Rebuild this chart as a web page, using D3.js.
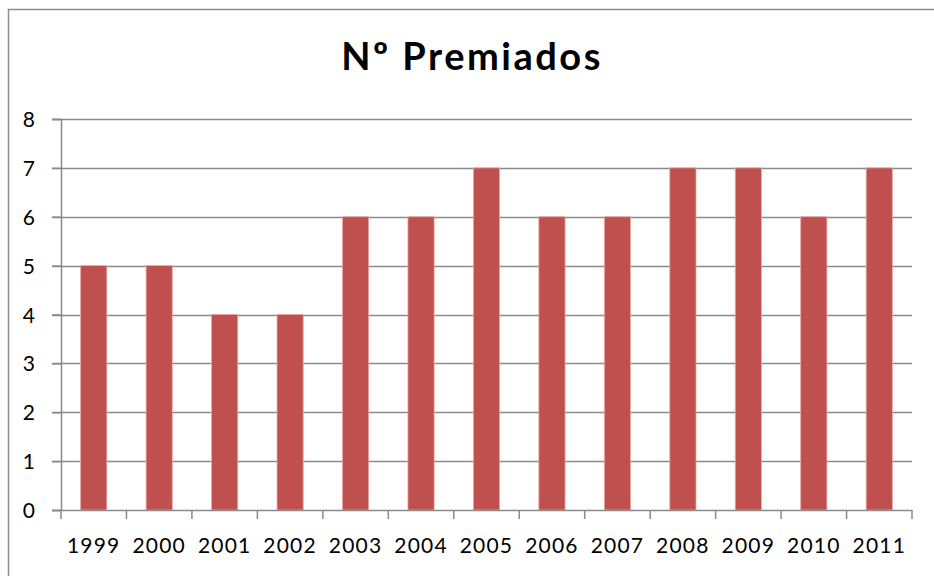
<!DOCTYPE html>
<html>
<head>
<meta charset="utf-8">
<script src="https://cdn.jsdelivr.net/npm/d3@7"></script>
<style>
  body { margin: 0; background: #fff; }
  text { font-family: Lato, "Open Sans", sans-serif; }
</style>
</head>
<body>
<div class="chart"></div>
<script>
var years = ["1999", "2000", "2001", "2002", "2003", "2004", "2005", "2006", "2007", "2008", "2009", "2010", "2011"];
var premiados = [5, 5, 4, 4, 6, 6, 7, 6, 6, 7, 7, 6, 7];
var yTicks = [0, 1, 2, 3, 4, 5, 6, 7, 8];

var width = 934, height = 576;
var plotLeft = 61, plotRight = 912, plotTop = 119, plotBottom = 510;

var svg = d3.select("div.chart").append("svg")
    .attr("width", width)
    .attr("height", height);

// chart border
svg.append("rect")
    .attr("x", 8.5)
    .attr("y", 9.5)
    .attr("width", 940)
    .attr("height", 600)
    .attr("fill", "#fff")
    .attr("stroke", "#8c8c8c")
    .attr("stroke-width", 1.5);

svg.append("text")
    .attr("x", 472)
    .attr("y", 70)
    .attr("text-anchor", "middle")
    .style("font-size", "38px")
    .style("font-weight", "bold")
    .style("letter-spacing", "2.5px")
    .text("Nº Premiados");

var x = d3.scaleBand().domain(years).range([plotLeft, plotRight]).paddingInner(0.6).paddingOuter(0.3);
var y = d3.scaleLinear().domain([0, 8]).range([plotBottom, plotTop]);

// gridlines
svg.append("g").selectAll("line").data(yTicks.slice(1)).enter().append("line")
    .attr("x1", plotLeft - 9).attr("x2", plotRight)
    .attr("y1", function (d) { return Math.round(y(d)) + 0.5; })
    .attr("y2", function (d) { return Math.round(y(d)) + 0.5; })
    .attr("stroke", "#8a8a8a")
    .attr("stroke-width", 1.5);

// bars
svg.append("g").selectAll("rect").data(premiados).enter().append("rect")
    .attr("x", function (d, i) { return x(years[i]); })
    .attr("y", function (d) { return y(d); })
    .attr("width", x.bandwidth())
    .attr("height", function (d) { return plotBottom - y(d); })
    .attr("fill", "#c0504d")
    .attr("stroke", "#e6a8a6")
    .attr("stroke-width", 0.8);

// y axis
var yAxis = svg.append("g")
    .attr("transform", "translate(" + plotLeft + ",0)")
    .call(d3.axisLeft(y).tickValues(yTicks).tickSize(9).tickPadding(17).tickFormat(d3.format("d")));
yAxis.select(".domain").attr("stroke", "#8a8a8a").attr("stroke-width", 1.5);
yAxis.selectAll(".tick line").attr("stroke", "#8a8a8a").attr("stroke-width", 1.5);
yAxis.selectAll("text").style("font-size", "21px").attr("fill", "#000").attr("dy", "0.36em");

// x axis, ticks between categories
var xb = svg.append("g").attr("transform", "translate(0," + plotBottom + ")");
xb.append("line")
    .attr("x1", plotLeft - 9).attr("x2", plotRight)
    .attr("y1", 0.5).attr("y2", 0.5)
    .attr("stroke", "#8a8a8a").attr("stroke-width", 1.5);
xb.selectAll("line.tk").data(d3.range(years.length + 1)).enter().append("line")
    .attr("class", "tk")
    .attr("x1", function (i) { return plotLeft + i * (plotRight - plotLeft) / years.length; })
    .attr("x2", function (i) { return plotLeft + i * (plotRight - plotLeft) / years.length; })
    .attr("y1", 0).attr("y2", 9)
    .attr("stroke", "#8a8a8a").attr("stroke-width", 1.5);
xb.selectAll("text").data(years).enter().append("text")
    .attr("x", function (d) { return x(d) + x.bandwidth() / 2; })
    .attr("y", 43)
    .attr("text-anchor", "middle")
    .style("font-size", "21px")
    .style("letter-spacing", "1.2px")
    .text(function (d) { return d; });
</script>
</body>
</html>
